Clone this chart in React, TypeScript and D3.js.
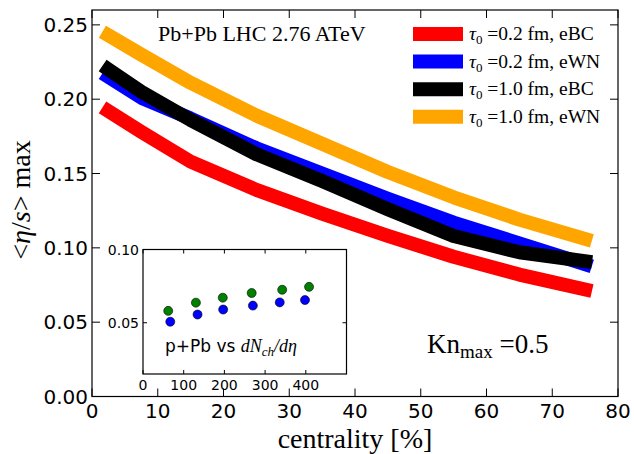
import * as d3 from 'd3';

// centrality bins [%]
const centrality = [2.5, 7.5, 15, 25, 35, 45, 55, 65, 75];
// <eta/s> max per scenario
const etaS_tau02_eBC = [0.192, 0.178, 0.158, 0.139, 0.123, 0.108, 0.094, 0.082, 0.072];
const etaS_tau02_eWN = [0.215, 0.201, 0.187, 0.167, 0.150, 0.133, 0.117, 0.103, 0.089];
const etaS_tau10_eBC = [0.220, 0.205, 0.186, 0.163, 0.145, 0.126, 0.108, 0.097, 0.091];
const etaS_tau10_eWN = [0.243, 0.230, 0.211, 0.189, 0.170, 0.151, 0.134, 0.119, 0.106];

const seriesTau = ['0.2', '0.2', '1.0', '1.0'];
const seriesTag = ['eBC', 'eWN', 'eBC', 'eWN'];
const seriesColors = ['#ff0000', '#0000ff', '#000000', '#ffa500'];

const xTicks = [0, 10, 20, 30, 40, 50, 60, 70, 80];
const yTicks = [0, 0.05, 0.1, 0.15, 0.2, 0.25];

// inset: p+Pb vs dN_ch/deta
const insetGreenX = [62, 130, 196, 267, 342, 408];
const insetGreenY = [0.0581, 0.0637, 0.0671, 0.0703, 0.0725, 0.0745];
const insetBlueX = [67, 134, 197, 270, 336, 398];
const insetBlueY = [0.0507, 0.0556, 0.059, 0.0617, 0.0639, 0.0655];
const insetXTicks = [0, 100, 200, 300, 400];
const insetYTicks = [0.05, 0.1];

const W = 634;
const H = 454;
const sans = 'DejaVu Sans, sans-serif';
const serif = 'Liberation Serif, serif';

export default function App() {
  const x = d3.scaleLinear().domain([0, 80]).range([92, 618]);
  const y = d3.scaleLinear().domain([0, 0.26]).range([396.5, 10]);

  const ix = d3.scaleLinear().domain([0, 500]).range([143, 346.5]);
  const iy = d3.scaleLinear().domain([0.015, 0.1]).range([374, 249.5]);

  const allSeries = [etaS_tau02_eBC, etaS_tau02_eWN, etaS_tau10_eBC, etaS_tau10_eWN];

  const line = d3
    .line<number>()
    .x((_, i) => x(centrality[i]))
    .y((d) => y(d));

  const [x0, x1] = x.range();
  const [y0, y1] = y.range();
  const [ix0, ix1] = ix.range();
  const [iy0, iy1] = iy.range();

  return (
    <svg
      width={W}
      height={H}
      style={{ position: 'absolute', left: 0, top: 0, background: '#fff' }}
    >
      <rect width={W} height={H} fill="#fff" />

      {/* curves */}
      {allSeries.map((s, k) => (
        <path
          key={k}
          d={line(s) || ''}
          fill="none"
          stroke={seriesColors[k]}
          strokeWidth={14}
          strokeLinecap="square"
          strokeLinejoin="round"
        />
      ))}

      {/* main frame + ticks */}
      <rect x={x0} y={y1} width={x1 - x0} height={y0 - y1} fill="none" stroke="#000" strokeWidth={1.2} />
      {xTicks.map((t) => (
        <g key={'xt' + t}>
          <line x1={x(t)} x2={x(t)} y1={y0} y2={y0 - 8} stroke="#000" />
          <line x1={x(t)} x2={x(t)} y1={y1} y2={y1 + 8} stroke="#000" />
          <text x={x(t)} y={y0 + 21} textAnchor="middle" fontFamily={sans} fontSize={20}>
            {t}
          </text>
        </g>
      ))}
      {yTicks.map((t) => (
        <g key={'yt' + t}>
          <line x1={x0} x2={x0 + 8} y1={y(t)} y2={y(t)} stroke="#000" />
          <line x1={x1} x2={x1 - 8} y1={y(t)} y2={y(t)} stroke="#000" />
          <text x={x0 - 4} y={y(t) + 7} textAnchor="end" fontFamily={sans} fontSize={20}>
            {t.toFixed(2)}
          </text>
        </g>
      ))}

      {/* axis labels */}
      <text x={(x0 + x1) / 2} y={448} textAnchor="middle" fontFamily={serif} fontSize={28}>
        centrality [%]
      </text>
      <text
        transform="translate(30,200) rotate(-90)"
        textAnchor="middle"
        fontFamily={serif}
        fontSize={28}
      >
        {'<'}
        <tspan fontStyle="italic">η</tspan>/<tspan fontStyle="italic">s</tspan>
        {'> max'}
      </text>

      {/* title */}
      <text x={158} y={41} fontFamily={serif} fontSize={22}>
        Pb+Pb LHC 2.76 ATeV
      </text>

      {/* legend */}
      {seriesColors.map((c, k) => {
        const ly = 34 + k * 27.6;
        return (
          <g key={'lg' + k}>
            <line x1={413} x2={463} y1={ly} y2={ly} stroke={c} strokeWidth={14} />
            <text x={469} y={ly + 6} fontFamily={serif} fontSize={19.5}>
              <tspan fontStyle="italic">τ</tspan>
              <tspan fontSize={13} dy={4}>0</tspan>
              <tspan dy={-4}>{` =${seriesTau[k]} fm, ${seriesTag[k]}`}</tspan>
            </text>
          </g>
        );
      })}

      {/* Kn max */}
      <text x={427} y={353} fontFamily={serif} fontSize={27}>
        Kn
        <tspan fontSize={19} dy={5}>max</tspan>
        <tspan dy={-5}> =0.5</tspan>
      </text>

      {/* inset */}
      <rect x={ix0} y={iy1} width={ix1 - ix0} height={iy0 - iy1} fill="#fff" stroke="#000" strokeWidth={1.2} />
      {insetXTicks.map((t) => (
        <g key={'ixt' + t}>
          <line x1={ix(t)} x2={ix(t)} y1={iy0} y2={iy0 - 4} stroke="#000" />
          <line x1={ix(t)} x2={ix(t)} y1={iy1} y2={iy1 + 4} stroke="#000" />
          <text x={ix(t)} y={iy0 + 16} textAnchor="middle" fontFamily={sans} fontSize={14}>
            {t}
          </text>
        </g>
      ))}
      {insetYTicks.map((t) => (
        <g key={'iyt' + t}>
          <line x1={ix0} x2={ix0 + 4} y1={iy(t)} y2={iy(t)} stroke="#000" />
          <line x1={ix1} x2={ix1 - 4} y1={iy(t)} y2={iy(t)} stroke="#000" />
          <text x={ix0 - 4} y={iy(t) + 5} textAnchor="end" fontFamily={sans} fontSize={14}>
            {t.toFixed(2)}
          </text>
        </g>
      ))}
      {insetGreenX.map((v, i) => (
        <circle key={'g' + i} cx={ix(v)} cy={iy(insetGreenY[i])} r={4.5} fill="#008000" stroke="#000" strokeWidth={0.6} />
      ))}
      {insetBlueX.map((v, i) => (
        <circle key={'b' + i} cx={ix(v)} cy={iy(insetBlueY[i])} r={4.5} fill="#0000ff" stroke="#000" strokeWidth={0.6} />
      ))}
      <text x={165} y={352} fontFamily={sans} fontSize={17}>
        {'p+Pb vs '}
        <tspan fontFamily={serif} fontStyle="italic" fontSize={18}>
          dN
        </tspan>
        <tspan fontFamily={serif} fontStyle="italic" fontSize={13} dy={4}>
          ch
        </tspan>
        <tspan fontFamily={serif} fontStyle="italic" fontSize={18} dy={-4}>
          /dη
        </tspan>
      </text>
    </svg>
  );
}
